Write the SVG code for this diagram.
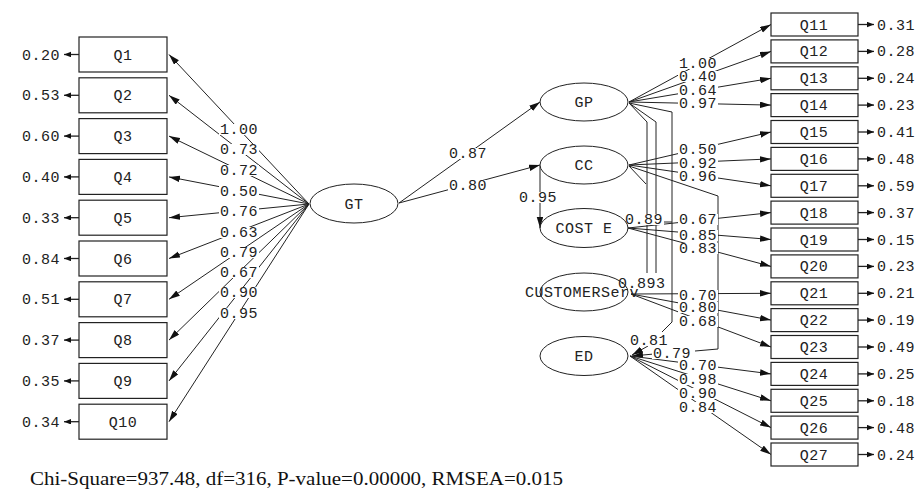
<svg xmlns="http://www.w3.org/2000/svg" width="921" height="489" viewBox="0 0 921 489">
<defs>
<marker id="arr" markerUnits="userSpaceOnUse" markerWidth="12" markerHeight="7" refX="11" refY="3.25" orient="auto"><path d="M0,0 L11,3.25 L0,6.5 z" fill="#111"/></marker>
<marker id="err" markerUnits="userSpaceOnUse" markerWidth="8" markerHeight="6" refX="7" refY="2.75" orient="auto"><path d="M0,0 L7,2.75 L0,5.5 z" fill="#111"/></marker>
<style>
.box{fill:#fff;stroke:#222;stroke-width:1.2}
.ell{fill:#fff;stroke:#222;stroke-width:1}
.t{font-family:"Liberation Mono","DejaVu Sans Mono",monospace;font-size:15px;letter-spacing:0.5px;fill:#222}
.bg{fill:#fff}
.ln{fill:none;stroke:#222;stroke-width:1}
.a{fill:none;stroke:#222;stroke-width:1;marker-end:url(#arr)}
.e{fill:none;stroke:#222;stroke-width:1.3;marker-end:url(#err)}
</style>
</defs>
<rect width="921" height="489" fill="#fff"/>

<g id="connectors">
<path class="a" d="M309,204 L169,54.5"/>
<path class="a" d="M309,204 L169,95.3"/>
<path class="a" d="M309,204 L169,136.1"/>
<path class="a" d="M309,204 L169,176.9"/>
<path class="a" d="M309,204 L169,217.7"/>
<path class="a" d="M309,204 L169,258.5"/>
<path class="a" d="M309,204 L169,299.3"/>
<path class="a" d="M309,204 L169,340.1"/>
<path class="a" d="M309,204 L169,380.9"/>
<path class="a" d="M309,204 L169,421.7"/>
<path class="e" d="M79,54.5 L64,54.5"/>
<path class="e" d="M79,95.3 L64,95.3"/>
<path class="e" d="M79,136.1 L64,136.1"/>
<path class="e" d="M79,176.9 L64,176.9"/>
<path class="e" d="M79,217.7 L64,217.7"/>
<path class="e" d="M79,258.5 L64,258.5"/>
<path class="e" d="M79,299.3 L64,299.3"/>
<path class="e" d="M79,340.1 L64,340.1"/>
<path class="e" d="M79,380.9 L64,380.9"/>
<path class="e" d="M79,421.7 L64,421.7"/>
<path class="a" d="M399,203 L540,102"/>
<path class="a" d="M399,203 L540,165"/>
<path class="a" d="M540,166 L540,228"/>
<path class="ln" d="M629,103 L647,122 L647,273"/>
<path class="ln" d="M629,103 L656,122 L656,273"/>
<path class="ln" d="M629,103 L672,112 L672,322 L662,332"/>
<path class="ln" d="M629,166 L646,184"/>
<path class="ln" d="M629,166 L718,196 L718,349 L695,351"/>
<path class="ln" d="M662,222 L672,222"/>
<path class="a" d="M648,346 L632,355"/>
<path class="a" d="M654,354 L632,356"/>
<path class="a" d="M629,102 L771,24.5"/>
<path class="a" d="M629,102 L771,51.4"/>
<path class="a" d="M629,102 L771,78.3"/>
<path class="a" d="M629,102 L771,105.1"/>
<path class="a" d="M629,165 L771,132"/>
<path class="a" d="M629,165 L771,158.9"/>
<path class="a" d="M629,165 L771,185.8"/>
<path class="a" d="M628,228 L771,212.6"/>
<path class="a" d="M628,228 L771,239.5"/>
<path class="a" d="M628,228 L771,266.4"/>
<path class="a" d="M631,294 L771,293.3"/>
<path class="a" d="M631,294 L771,320.1"/>
<path class="a" d="M631,294 L771,347"/>
<path class="a" d="M630,356 L771,373.9"/>
<path class="a" d="M630,356 L771,400.8"/>
<path class="a" d="M630,356 L771,427.6"/>
<path class="a" d="M630,356 L771,454.5"/>
<path class="e" d="M858,24.5 L874,24.5"/>
<path class="e" d="M858,51.4 L874,51.4"/>
<path class="e" d="M858,78.3 L874,78.3"/>
<path class="e" d="M858,105.1 L874,105.1"/>
<path class="e" d="M858,132 L874,132"/>
<path class="e" d="M858,158.9 L874,158.9"/>
<path class="e" d="M858,185.8 L874,185.8"/>
<path class="e" d="M858,212.6 L874,212.6"/>
<path class="e" d="M858,239.5 L874,239.5"/>
<path class="e" d="M858,266.4 L874,266.4"/>
<path class="e" d="M858,293.3 L874,293.3"/>
<path class="e" d="M858,320.1 L874,320.1"/>
<path class="e" d="M858,347 L874,347"/>
<path class="e" d="M858,373.9 L874,373.9"/>
<path class="e" d="M858,400.8 L874,400.8"/>
<path class="e" d="M858,427.6 L874,427.6"/>
<path class="e" d="M858,454.5 L874,454.5"/>
</g>

<g id="label-backgrounds">
<rect class="bg" x="219" y="124" width="40" height="11"/>
<rect class="bg" x="219" y="144" width="40" height="11"/>
<rect class="bg" x="219" y="165" width="40" height="11"/>
<rect class="bg" x="219" y="186" width="40" height="11"/>
<rect class="bg" x="219" y="206" width="40" height="11"/>
<rect class="bg" x="219" y="227" width="40" height="11"/>
<rect class="bg" x="219" y="247" width="40" height="11"/>
<rect class="bg" x="219" y="267" width="40" height="11"/>
<rect class="bg" x="219" y="287" width="40" height="11"/>
<rect class="bg" x="219" y="308" width="40" height="11"/>
<rect class="bg" x="448" y="148" width="40" height="11"/>
<rect class="bg" x="448" y="180" width="40" height="11"/>
<rect class="bg" x="518" y="192" width="40" height="11"/>
<rect class="bg" x="678" y="58" width="40" height="11"/>
<rect class="bg" x="678" y="71" width="40" height="11"/>
<rect class="bg" x="678" y="85" width="40" height="11"/>
<rect class="bg" x="678" y="98" width="40" height="11"/>
<rect class="bg" x="678" y="144" width="40" height="11"/>
<rect class="bg" x="678" y="158" width="40" height="11"/>
<rect class="bg" x="678" y="171" width="40" height="11"/>
<rect class="bg" x="678" y="214" width="40" height="11"/>
<rect class="bg" x="678" y="230" width="40" height="11"/>
<rect class="bg" x="678" y="243" width="40" height="11"/>
<rect class="bg" x="678" y="290" width="40" height="11"/>
<rect class="bg" x="678" y="302" width="40" height="11"/>
<rect class="bg" x="678" y="316" width="40" height="11"/>
<rect class="bg" x="678" y="360" width="40" height="11"/>
<rect class="bg" x="678" y="374" width="40" height="11"/>
<rect class="bg" x="678" y="388" width="40" height="11"/>
<rect class="bg" x="678" y="402" width="40" height="11"/>
<rect class="bg" x="624" y="214" width="40" height="11"/>
<rect class="bg" x="617" y="278" width="49" height="11"/>
<rect class="bg" x="629" y="335" width="40" height="11"/>
<rect class="bg" x="652" y="348" width="40" height="11"/>
</g>

<g id="labels-loadings" class="t">
<text x="220" y="134">1.00</text>
<text x="220" y="154">0.73</text>
<text x="220" y="175">0.72</text>
<text x="220" y="196">0.50</text>
<text x="220" y="216">0.76</text>
<text x="220" y="237">0.63</text>
<text x="220" y="257">0.79</text>
<text x="220" y="277">0.67</text>
<text x="220" y="297">0.90</text>
<text x="220" y="318">0.95</text>
<text x="449" y="158">0.87</text>
<text x="449" y="190">0.80</text>
<text x="519" y="202">0.95</text>
<text x="679" y="68">1.00</text>
<text x="679" y="81">0.40</text>
<text x="679" y="95">0.64</text>
<text x="679" y="108">0.97</text>
<text x="679" y="154">0.50</text>
<text x="679" y="168">0.92</text>
<text x="679" y="181">0.96</text>
<text x="679" y="224">0.67</text>
<text x="679" y="240">0.85</text>
<text x="679" y="253">0.83</text>
<text x="679" y="300">0.70</text>
<text x="679" y="312">0.80</text>
<text x="679" y="326">0.68</text>
<text x="679" y="370">0.70</text>
<text x="679" y="384">0.98</text>
<text x="679" y="398">0.90</text>
<text x="679" y="412">0.84</text>
<text x="625" y="224">0.89</text>
<text x="618" y="288">0.893</text>
<text x="630" y="345">0.81</text>
<text x="653" y="358">0.79</text>
</g>

<g id="GT"><ellipse class="ell" cx="354" cy="203.5" rx="44" ry="19.5"/><text class="t" x="354" y="208.5" text-anchor="middle">GT</text></g>
<g id="GP"><ellipse class="ell" cx="584" cy="102" rx="44" ry="19"/><text class="t" x="584" y="107" text-anchor="middle">GP</text></g>
<g id="CC"><ellipse class="ell" cx="584" cy="165" rx="44" ry="19"/><text class="t" x="584" y="170" text-anchor="middle">CC</text></g>
<g id="COSTE"><ellipse class="ell" cx="584" cy="228" rx="44" ry="19.5" style="fill:none"/><text class="t" x="584" y="233" text-anchor="middle">COST E</text></g>
<g id="CUSTOMERServ"><ellipse class="ell" cx="584" cy="292" rx="44" ry="19" style="fill:none"/><text class="t" x="582" y="297" text-anchor="middle">CUSTOMERServ</text></g>
<g id="ED"><ellipse class="ell" cx="584" cy="356" rx="44" ry="19.5"/><text class="t" x="584" y="361" text-anchor="middle">ED</text></g>

<g id="Q1"><rect class="box" x="79" y="37" width="88" height="35"/><text class="t" x="123" y="59.5" text-anchor="middle">Q1</text><text class="t" x="22" y="59.5">0.20</text></g>
<g id="Q2"><rect class="box" x="79" y="77.8" width="88" height="35"/><text class="t" x="123" y="100.3" text-anchor="middle">Q2</text><text class="t" x="22" y="100.3">0.53</text></g>
<g id="Q3"><rect class="box" x="79" y="118.6" width="88" height="35"/><text class="t" x="123" y="141.1" text-anchor="middle">Q3</text><text class="t" x="22" y="141.1">0.60</text></g>
<g id="Q4"><rect class="box" x="79" y="159.4" width="88" height="35"/><text class="t" x="123" y="181.9" text-anchor="middle">Q4</text><text class="t" x="22" y="181.9">0.40</text></g>
<g id="Q5"><rect class="box" x="79" y="200.2" width="88" height="35"/><text class="t" x="123" y="222.7" text-anchor="middle">Q5</text><text class="t" x="22" y="222.7">0.33</text></g>
<g id="Q6"><rect class="box" x="79" y="241" width="88" height="35"/><text class="t" x="123" y="263.5" text-anchor="middle">Q6</text><text class="t" x="22" y="263.5">0.84</text></g>
<g id="Q7"><rect class="box" x="79" y="281.8" width="88" height="35"/><text class="t" x="123" y="304.3" text-anchor="middle">Q7</text><text class="t" x="22" y="304.3">0.51</text></g>
<g id="Q8"><rect class="box" x="79" y="322.6" width="88" height="35"/><text class="t" x="123" y="345.1" text-anchor="middle">Q8</text><text class="t" x="22" y="345.1">0.37</text></g>
<g id="Q9"><rect class="box" x="79" y="363.4" width="88" height="35"/><text class="t" x="123" y="385.9" text-anchor="middle">Q9</text><text class="t" x="22" y="385.9">0.35</text></g>
<g id="Q10"><rect class="box" x="79" y="404.2" width="88" height="35"/><text class="t" x="123" y="426.7" text-anchor="middle">Q10</text><text class="t" x="22" y="426.7">0.34</text></g>

<g id="Q11"><rect class="box" x="771" y="13" width="87" height="23"/><text class="t" x="814" y="29.5" text-anchor="middle">Q11</text><text class="t" x="877" y="29.5">0.31</text></g>
<g id="Q12"><rect class="box" x="771" y="39.9" width="87" height="23"/><text class="t" x="814" y="56.4" text-anchor="middle">Q12</text><text class="t" x="877" y="56.4">0.28</text></g>
<g id="Q13"><rect class="box" x="771" y="66.8" width="87" height="23"/><text class="t" x="814" y="83.3" text-anchor="middle">Q13</text><text class="t" x="877" y="83.3">0.24</text></g>
<g id="Q14"><rect class="box" x="771" y="93.6" width="87" height="23"/><text class="t" x="814" y="110.1" text-anchor="middle">Q14</text><text class="t" x="877" y="110.1">0.23</text></g>
<g id="Q15"><rect class="box" x="771" y="120.5" width="87" height="23"/><text class="t" x="814" y="137" text-anchor="middle">Q15</text><text class="t" x="877" y="137">0.41</text></g>
<g id="Q16"><rect class="box" x="771" y="147.4" width="87" height="23"/><text class="t" x="814" y="163.9" text-anchor="middle">Q16</text><text class="t" x="877" y="163.9">0.48</text></g>
<g id="Q17"><rect class="box" x="771" y="174.3" width="87" height="23"/><text class="t" x="814" y="190.8" text-anchor="middle">Q17</text><text class="t" x="877" y="190.8">0.59</text></g>
<g id="Q18"><rect class="box" x="771" y="201.1" width="87" height="23"/><text class="t" x="814" y="217.6" text-anchor="middle">Q18</text><text class="t" x="877" y="217.6">0.37</text></g>
<g id="Q19"><rect class="box" x="771" y="228" width="87" height="23"/><text class="t" x="814" y="244.5" text-anchor="middle">Q19</text><text class="t" x="877" y="244.5">0.15</text></g>
<g id="Q20"><rect class="box" x="771" y="254.9" width="87" height="23"/><text class="t" x="814" y="271.4" text-anchor="middle">Q20</text><text class="t" x="877" y="271.4">0.23</text></g>
<g id="Q21"><rect class="box" x="771" y="281.8" width="87" height="23"/><text class="t" x="814" y="298.3" text-anchor="middle">Q21</text><text class="t" x="877" y="298.3">0.21</text></g>
<g id="Q22"><rect class="box" x="771" y="308.6" width="87" height="23"/><text class="t" x="814" y="325.1" text-anchor="middle">Q22</text><text class="t" x="877" y="325.1">0.19</text></g>
<g id="Q23"><rect class="box" x="771" y="335.5" width="87" height="23"/><text class="t" x="814" y="352" text-anchor="middle">Q23</text><text class="t" x="877" y="352">0.49</text></g>
<g id="Q24"><rect class="box" x="771" y="362.4" width="87" height="23"/><text class="t" x="814" y="378.9" text-anchor="middle">Q24</text><text class="t" x="877" y="378.9">0.25</text></g>
<g id="Q25"><rect class="box" x="771" y="389.3" width="87" height="23"/><text class="t" x="814" y="405.8" text-anchor="middle">Q25</text><text class="t" x="877" y="405.8">0.18</text></g>
<g id="Q26"><rect class="box" x="771" y="416.1" width="87" height="23"/><text class="t" x="814" y="432.6" text-anchor="middle">Q26</text><text class="t" x="877" y="432.6">0.48</text></g>
<g id="Q27"><rect class="box" x="771" y="443" width="87" height="23"/><text class="t" x="814" y="459.5" text-anchor="middle">Q27</text><text class="t" x="877" y="459.5">0.24</text></g>

<text x="30" y="485" font-family="'Liberation Serif','Times New Roman',serif" font-size="18" fill="#111" textLength="533" lengthAdjust="spacingAndGlyphs">Chi-Square=937.48, df=316, P-value=0.00000, RMSEA=0.015</text>
</svg>
